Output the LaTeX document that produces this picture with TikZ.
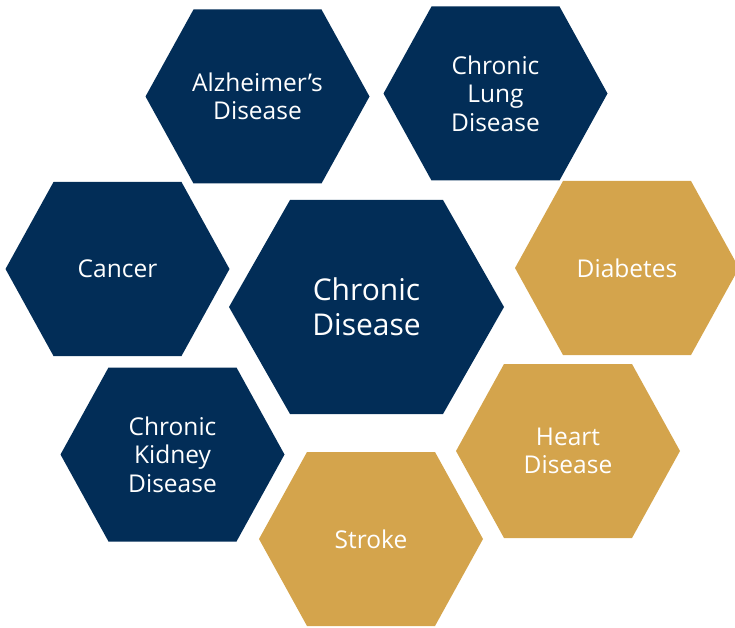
\documentclass[tikz,border=0pt]{standalone}
\usepackage{fontspec}
\setmainfont{Open Sans}
\usetikzlibrary{positioning}

\definecolor{navyblue}{RGB}{2,45,87}
\definecolor{goldhex}{RGB}{212,164,76}

\begin{document}
\begin{tikzpicture}[x=1pt,y=-1pt,
        smallhex/.style={insert path={(-112,0) -- (-64,-87) -- (64,-87) -- (112,0) -- (64,87) -- (-64,87) -- cycle}},
        bighex/.style={insert path={(-137.5,0) -- (-76.5,-107) -- (76.5,-107) -- (137.5,0) -- (76.5,107) -- (-76.5,107) -- cycle}},
        hextext/.style={text=white,align=center,font=\fontsize{24.5}{28.5}\selectfont,inner sep=0pt},
        bigtext/.style={hextext,font=\fontsize{30}{35}\selectfont}]
        \useasboundingbox (0,0) rectangle (735,628);

        % navy ring
        \fill[navyblue,shift={(257.5,96.5)},smallhex];
        \node[hextext] at (257.5,96.5)  (alz)    {Alzheimer’s\\Disease};
        \fill[navyblue,shift={(495.5,93.5)},smallhex];
        \node[hextext] at (495.5,93.5)  (lung)   {Chronic\\Lung\\Disease};
        \fill[navyblue,shift={(117.5,269)},smallhex];
        \node[hextext] at (117.5,269)   (cancer) {Cancer};
        \fill[navyblue,shift={(172.5,454.5)},smallhex];
        \node[hextext] at (172.5,454.5) (kidney) {Chronic\\Kidney\\Disease};

        % gold ring
        \fill[goldhex,shift={(627,268)},smallhex];
        \node[hextext] at (627,268)     (diab)   {Diabetes};
        \fill[goldhex,shift={(568,451)},smallhex];
        \node[hextext] at (568,451)     (heart)  {Heart\\Disease};
        \fill[goldhex,shift={(371,539)},smallhex];
        \node[hextext] at (371,539)     (stroke) {Stroke};

        % centre
        \fill[navyblue,shift={(366.5,307)},bighex];
        \node[bigtext] at (366.5,307)   (chronic) {Chronic\\Disease};
    \end{tikzpicture}
\end{document}
